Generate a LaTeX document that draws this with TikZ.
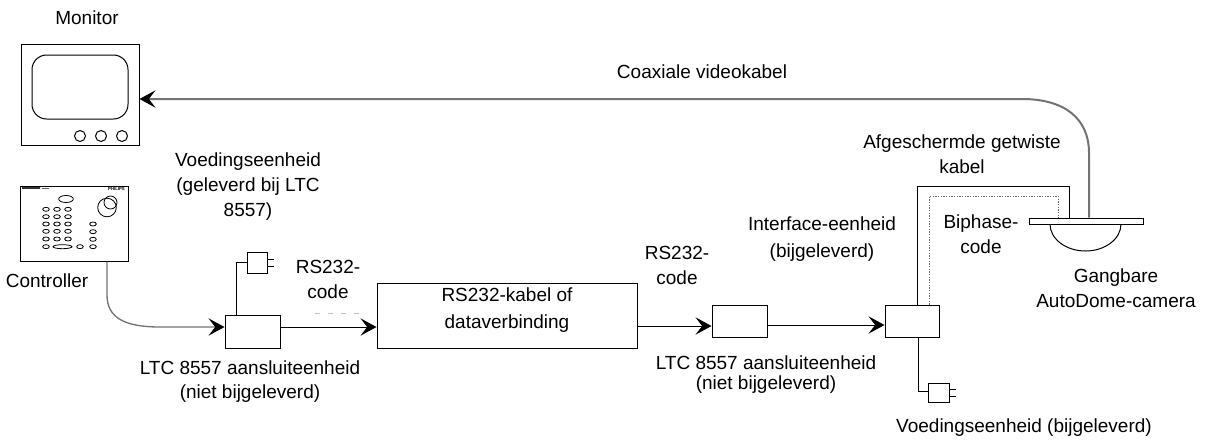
\documentclass[tikz,border=0pt]{standalone}
\usepackage{fontspec}
\setmainfont{Liberation Sans}
\usetikzlibrary{arrows.meta}
\begin{document}
\begin{tikzpicture}[x=0.75pt,y=-0.75pt,
  % multi-line labels are placed by the baseline of their last line
  lab/.style={font=\fontsize{14.25}{18.75}\selectfont, align=center, anchor=base, inner sep=0pt},
  labtight/.style={font=\fontsize{14.25}{15}\selectfont, align=center, anchor=base, inner sep=0pt},
  wire/.style={draw=black, line width=0.75pt},
  unitbox/.style={draw=black, line width=0.75pt, inner sep=0pt, fill=white},
  tip/.style={-{Stealth[length=12pt,width=13pt,inset=5pt,color=black]}},
  coax/.style={draw=black!55, line width=1.5pt},
  ctrlcable/.style={draw=black!55, line width=1pt},
  dotline/.style={draw=black!60, line width=0.75pt, dash pattern=on 1pt off 1pt},
  knob/.style={draw=black, line width=0.6pt}
]
\useasboundingbox (0,0) rectangle (1210,440);

% ---------- monitor ----------
\node[unitbox, minimum width=88.5pt, minimum height=75.75pt] (monitor) at (80,94.5) {};
\draw[wire, rounded corners=11pt] (32,55) rectangle (128,119);
\foreach \bx in {80,101,122} \draw[wire] (\bx,136) circle[radius=5.5];
\node[lab] (monlab) at (87,24) {Monitor};

% ---------- controller ----------
\node[unitbox, minimum width=81pt, minimum height=56.25pt] (ctrl) at (74,223.5) {};
\fill[black!80] (22,187.3) rectangle (40,189.3);
\fill[black!60] (42,187.8) rectangle (49,188.8);
\node[font=\fontsize{3.2}{3.2}\selectfont\bfseries, inner sep=0pt] (brand) at (116.5,189) {PHILIPS};
\draw[knob] (66,199) ellipse[x radius=7.3, y radius=3.5];
\draw[knob] (107,207.5) circle[radius=9.3];
\draw[knob] (110.5,202.5) circle[radius=6.5];
\foreach \ry in {209.3,216.7,224,231.3,239}
  \foreach \rx in {46,57,68}
    \draw[knob] (\rx,\ry) ellipse[x radius=3.3, y radius=2];
\foreach \ry in {224,231.7,239.3,246.7}
  \draw[knob] (93,\ry) ellipse[x radius=3.3, y radius=2];
\draw[knob] (46,246.7) ellipse[x radius=3.3, y radius=2];
\draw[knob] (62.5,246.7) ellipse[x radius=9.5, y radius=2];
\draw[knob] (80,246.7) ellipse[x radius=3.3, y radius=2];
\node[lab] (ctrllab) at (47,287) {Controller};

% ---------- first connection unit ----------
\node[unitbox, minimum width=41.25pt, minimum height=24.75pt] (box1) at (252.5,331.5) {};
\node[unitbox, minimum width=15pt, minimum height=15.75pt] (plug1) at (257,262.5) {};
\draw[wire] (plug1.east |- 0,259) -- ++(6,0);
\draw[wire] (plug1.east |- 0,266) -- ++(6,0);
\coordinate (f1) at (236,262);
\draw[wire] (box1.north -| f1) -- (f1) -- (plug1.west |- f1);
\node[lab] (psu1lab) at (248,216) {Voedingseenheid\\(geleverd bij LTC\\8557)};
\node[labtight] (box1lab) at (250,398) {LTC 8557 aansluiteenheid\\[3pt](niet bijgeleverd)};

% controller cable
\coordinate (ctrlbend) at (107,295);
\coordinate (l1) at (0,327);
\draw[ctrlcable, tip] (ctrl.south -| ctrlbend) -- (ctrlbend)
  .. controls (107,318) and (125,327) .. (160,327) -- (box1.west |- l1);

% ---------- RS232 link ----------
\node[unitbox, minimum width=195pt, minimum height=48.75pt] (bigbox) at (507,315.5) {};
\node[lab, font=\fontsize{14.25}{20.25}\selectfont] (biglab) at (507,328) {RS232-kabel of\\dataverbinding};
\draw[wire, tip] (box1.east |- l1) -- (bigbox.west |- l1);
\node[lab] (rs1lab) at (328,298) {RS232-\\code};
\draw[black!25, line width=0.75pt, dash pattern=on 3.75pt off 6pt] (315,313) -- (360,313);

% ---------- second connection unit ----------
\node[unitbox, minimum width=41.25pt, minimum height=24pt] (box2) at (739.5,321) {};
\coordinate (l2) at (0,326);
\draw[wire, tip] (bigbox.east |- l2) -- (box2.west |- l2);
\node[lab] (rs2lab) at (677,284) {RS232-\\code};
\node[labtight] (box2lab) at (766,389) {LTC 8557 aansluiteenheid\\[0pt](niet bijgeleverd)};

% ---------- interface unit ----------
\node[unitbox, minimum width=40.5pt, minimum height=24pt] (box3) at (912,321) {};
\coordinate (l3) at (0,325);
\draw[wire, tip] (box2.east |- l3) -- (box3.west |- l3);
\node[lab, font=\fontsize{14.25}{20.25}\selectfont] (iflab) at (822,257) {Interface-eenheid\\(bijgeleverd)};

\node[unitbox, minimum width=15.75pt, minimum height=14.25pt] (plug2) at (938.5,392.5) {};
\draw[wire] (plug2.east |- 0,389) -- ++(6,0);
\draw[wire] (plug2.east |- 0,396) -- ++(6,0);
\coordinate (f2) at (918,391.5);
\draw[wire] (box3.south -| f2) -- (f2) -- (plug2.west |- f2);
\node[lab] (psu2lab) at (1024,432) {Voedingseenheid (bijgeleverd)};

% ---------- dome camera ----------
\draw[wire] (1050,224) arc[start angle=180, end angle=0, x radius=35.5, y radius=27];
\node[unitbox, minimum width=85.5pt, minimum height=4.5pt] (plate) at (1086,221) {};
\node[lab] (camlab) at (1116,307) {Gangbare\\AutoDome-camera};

% shielded twisted pair
\coordinate (tw1) at (917,186);
\coordinate (tw2) at (1069,186);
\draw[wire] (box3.north -| tw1) -- (tw1) -- (tw2) -- (plate.north -| tw2);
\coordinate (dt1) at (929,196);
\coordinate (dt2) at (1058,196);
\draw[dotline] (box3.north -| dt1) -- (dt1) -- (dt2) -- (plate.north -| dt2);
\node[lab] (twlab) at (962,173) {Afgeschermde getwiste\\kabel};
\node[lab] (biplab) at (981,253) {Biphase-\\code};

% coaxial video cable
\coordinate (cx1) at (1089,153);
\coordinate (cx2) at (1022,99);
\draw[coax, tip] (plate.north -| cx1) -- (cx1)
  .. controls (1089,118) and (1064,99) .. (cx2) -- (monitor.east |- cx2);
\node[lab] (coaxlab) at (702,78) {Coaxiale videokabel};

\end{tikzpicture}
\end{document}
